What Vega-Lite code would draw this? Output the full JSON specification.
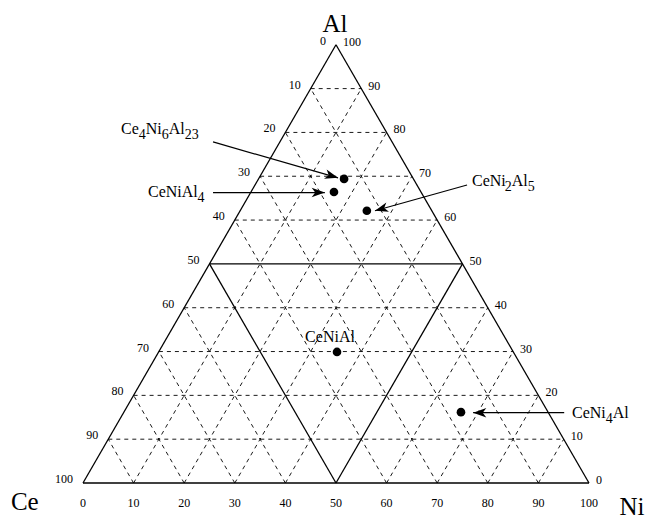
{
  "$schema": "https://vega.github.io/schema/vega-lite/v6.json",
  "width": 649,
  "height": 519,
  "autosize": {"type": "none"},
  "padding": 0,
  "background": "white",
  "config": {"view": {"stroke": null}},
  "datasets": {
    "grid": [
      {"x": 5, "y": 8.660, "x2": 95, "y2": 8.660},
      {"x": 10, "y": 17.321, "x2": 90, "y2": 17.321},
      {"x": 15, "y": 25.981, "x2": 85, "y2": 25.981},
      {"x": 20, "y": 34.641, "x2": 80, "y2": 34.641},
      {"x": 30, "y": 51.962, "x2": 70, "y2": 51.962},
      {"x": 35, "y": 60.622, "x2": 65, "y2": 60.622},
      {"x": 40, "y": 69.282, "x2": 60, "y2": 69.282},
      {"x": 45, "y": 77.942, "x2": 55, "y2": 77.942},
      {"x": 10, "y": 0, "x2": 55, "y2": 77.942},
      {"x": 20, "y": 0, "x2": 60, "y2": 69.282},
      {"x": 30, "y": 0, "x2": 65, "y2": 60.622},
      {"x": 40, "y": 0, "x2": 70, "y2": 51.962},
      {"x": 60, "y": 0, "x2": 80, "y2": 34.641},
      {"x": 70, "y": 0, "x2": 85, "y2": 25.981},
      {"x": 80, "y": 0, "x2": 90, "y2": 17.321},
      {"x": 90, "y": 0, "x2": 95, "y2": 8.660},
      {"x": 90, "y": 0, "x2": 45, "y2": 77.942},
      {"x": 80, "y": 0, "x2": 40, "y2": 69.282},
      {"x": 70, "y": 0, "x2": 35, "y2": 60.622},
      {"x": 60, "y": 0, "x2": 30, "y2": 51.962},
      {"x": 40, "y": 0, "x2": 20, "y2": 34.641},
      {"x": 30, "y": 0, "x2": 15, "y2": 25.981},
      {"x": 20, "y": 0, "x2": 10, "y2": 17.321},
      {"x": 10, "y": 0, "x2": 5, "y2": 8.660}
    ],
    "frame": [
      {"x": 0, "y": 0, "x2": 100, "y2": 0},
      {"x": 0, "y": 0, "x2": 50, "y2": 86.603},
      {"x": 100, "y": 0, "x2": 50, "y2": 86.603},
      {"x": 25, "y": 43.301, "x2": 75, "y2": 43.301},
      {"x": 50, "y": 0, "x2": 25, "y2": 43.301},
      {"x": 50, "y": 0, "x2": 75, "y2": 43.301}
    ],
    "arrows": [
      {"name": "Ce4Ni6Al23", "x": 25.7, "y": 67.4, "x2": 50.4, "y2": 60.3},
      {"name": "CeNiAl4", "x": 25.7, "y": 57.4, "x2": 47.8, "y2": 57.4},
      {"name": "CeNi2Al5", "x": 75.9, "y": 58.9, "x2": 57.7, "y2": 53.8},
      {"name": "CeNi4Al", "x": 95.1, "y": 13.9, "x2": 77.1, "y2": 13.9}
    ],
    "compounds": [
      {"name": "Ce4Ni6Al23", "x": 51.6, "y": 60.1},
      {"name": "CeNiAl4", "x": 49.6, "y": 57.5},
      {"name": "CeNi2Al5", "x": 56.1, "y": 53.8},
      {"name": "CeNiAl", "x": 50.2, "y": 25.9},
      {"name": "CeNi4Al", "x": 74.7, "y": 14.0}
    ],
    "labels": [
      {"compound": "Ce4Ni6Al23", "part": "main", "text": "Ce", "x": 7.51, "y": 69.0},
      {"compound": "Ce4Ni6Al23", "part": "sub", "text": "4", "x": 11.03, "y": 69.0},
      {"compound": "Ce4Ni6Al23", "part": "main", "text": "Ni", "x": 12.41, "y": 69.0},
      {"compound": "Ce4Ni6Al23", "part": "sub", "text": "6", "x": 15.57, "y": 69.0},
      {"compound": "Ce4Ni6Al23", "part": "main", "text": "Al", "x": 16.96, "y": 69.0},
      {"compound": "Ce4Ni6Al23", "part": "sub", "text": "23", "x": 20.12, "y": 69.0},
      {"compound": "CeNiAl4", "part": "main", "text": "CeNiAl", "x": 12.85, "y": 56.5},
      {"compound": "CeNiAl4", "part": "sub", "text": "4", "x": 22.65, "y": 56.5},
      {"compound": "CeNi2Al5", "part": "main", "text": "CeNi", "x": 76.88, "y": 58.7},
      {"compound": "CeNi2Al5", "part": "sub", "text": "2", "x": 83.36, "y": 58.7},
      {"compound": "CeNi2Al5", "part": "main", "text": "Al", "x": 84.74, "y": 58.7},
      {"compound": "CeNi2Al5", "part": "sub", "text": "5", "x": 87.90, "y": 58.7},
      {"compound": "CeNiAl", "part": "main", "text": "CeNiAl", "x": 43.9, "y": 27.9},
      {"compound": "CeNi4Al", "part": "main", "text": "CeNi", "x": 96.64, "y": 12.8},
      {"compound": "CeNi4Al", "part": "sub", "text": "4", "x": 103.32, "y": 12.8},
      {"compound": "CeNi4Al", "part": "main", "text": "Al", "x": 104.70, "y": 12.8}
    ],
    "ticks": [
      {"side": "bottom", "label": "0", "x": 0, "y": 0},
      {"side": "bottom", "label": "10", "x": 10, "y": 0},
      {"side": "bottom", "label": "20", "x": 20, "y": 0},
      {"side": "bottom", "label": "30", "x": 30, "y": 0},
      {"side": "bottom", "label": "40", "x": 40, "y": 0},
      {"side": "bottom", "label": "50", "x": 50, "y": 0},
      {"side": "bottom", "label": "60", "x": 60, "y": 0},
      {"side": "bottom", "label": "70", "x": 70, "y": 0},
      {"side": "bottom", "label": "80", "x": 80, "y": 0},
      {"side": "bottom", "label": "90", "x": 90, "y": 0},
      {"side": "bottom", "label": "100", "x": 100, "y": 0},
      {"side": "left", "label": "0", "x": 50, "y": 86.603},
      {"side": "left", "label": "10", "x": 45, "y": 77.942},
      {"side": "left", "label": "20", "x": 40, "y": 69.282},
      {"side": "left", "label": "30", "x": 35, "y": 60.622},
      {"side": "left", "label": "40", "x": 30, "y": 51.962},
      {"side": "left", "label": "50", "x": 25, "y": 43.301},
      {"side": "left", "label": "60", "x": 20, "y": 34.641},
      {"side": "left", "label": "70", "x": 15, "y": 25.981},
      {"side": "left", "label": "80", "x": 10, "y": 17.321},
      {"side": "left", "label": "90", "x": 5, "y": 8.660},
      {"side": "left", "label": "100", "x": 0, "y": 0},
      {"side": "right", "label": "0", "x": 100, "y": 0},
      {"side": "right", "label": "10", "x": 95, "y": 8.660},
      {"side": "right", "label": "20", "x": 90, "y": 17.321},
      {"side": "right", "label": "30", "x": 85, "y": 25.981},
      {"side": "right", "label": "40", "x": 80, "y": 34.641},
      {"side": "right", "label": "50", "x": 75, "y": 43.301},
      {"side": "right", "label": "60", "x": 70, "y": 51.962},
      {"side": "right", "label": "70", "x": 65, "y": 60.622},
      {"side": "right", "label": "80", "x": 60, "y": 69.282},
      {"side": "right", "label": "90", "x": 55, "y": 77.942},
      {"side": "right", "label": "100", "x": 50, "y": 86.603}
    ],
    "vertices": [
      {"label": "Al", "x": 49.8, "y": 89.2},
      {"label": "Ce", "x": -11.5, "y": -5.34},
      {"label": "Ni", "x": 108.5, "y": -6.32}
    ]
  },
  "encoding": {
    "x": {"field": "x", "type": "quantitative", "scale": {"domain": [-16.40, 111.86], "nice": false, "zero": false}, "axis": null},
    "y": {"field": "y", "type": "quantitative", "scale": {"domain": [-7.11, 95.45], "nice": false, "zero": false}, "axis": null}
  },
  "layer": [
    {
      "data": {"name": "grid"},
      "mark": {"type": "rule", "strokeDash": [4, 4], "strokeWidth": 0.9, "color": "black"},
      "encoding": {"x2": {"field": "x2"}, "y2": {"field": "y2"}}
    },
    {
      "data": {"name": "frame"},
      "mark": {"type": "rule", "strokeWidth": 1.3, "color": "black"},
      "encoding": {"x2": {"field": "x2"}, "y2": {"field": "y2"}}
    },
    {
      "data": {"name": "arrows"},
      "mark": {"type": "rule", "strokeWidth": 1.2, "color": "black"},
      "encoding": {"x2": {"field": "x2"}, "y2": {"field": "y2"}}
    },
    {
      "data": {"name": "arrows"},
      "transform": [{"filter": "datum.name == 'Ce4Ni6Al23'"}],
      "mark": {"type": "point", "shape": "M0,0 L-2.2,-0.8 L-1.6,0 L-2.2,0.8 Z", "filled": true, "size": 144, "angle": 16, "color": "black", "opacity": 1},
      "encoding": {"x": {"field": "x2", "type": "quantitative"}, "y": {"field": "y2", "type": "quantitative"}}
    },
    {
      "data": {"name": "arrows"},
      "transform": [{"filter": "datum.name == 'CeNiAl4'"}],
      "mark": {"type": "point", "shape": "M0,0 L-2.2,-0.8 L-1.6,0 L-2.2,0.8 Z", "filled": true, "size": 144, "angle": 0, "color": "black", "opacity": 1},
      "encoding": {"x": {"field": "x2", "type": "quantitative"}, "y": {"field": "y2", "type": "quantitative"}}
    },
    {
      "data": {"name": "arrows"},
      "transform": [{"filter": "datum.name == 'CeNi2Al5'"}],
      "mark": {"type": "point", "shape": "M0,0 L-2.2,-0.8 L-1.6,0 L-2.2,0.8 Z", "filled": true, "size": 144, "angle": 164, "color": "black", "opacity": 1},
      "encoding": {"x": {"field": "x2", "type": "quantitative"}, "y": {"field": "y2", "type": "quantitative"}}
    },
    {
      "data": {"name": "arrows"},
      "transform": [{"filter": "datum.name == 'CeNi4Al'"}],
      "mark": {"type": "point", "shape": "M0,0 L-2.2,-0.8 L-1.6,0 L-2.2,0.8 Z", "filled": true, "size": 144, "angle": 180, "color": "black", "opacity": 1},
      "encoding": {"x": {"field": "x2", "type": "quantitative"}, "y": {"field": "y2", "type": "quantitative"}}
    },
    {
      "data": {"name": "compounds"},
      "mark": {"type": "point", "shape": "circle", "filled": true, "size": 75, "color": "black", "opacity": 1}
    },
    {
      "data": {"name": "labels"},
      "transform": [{"filter": "datum.part == 'main'"}],
      "mark": {"type": "text", "align": "left", "baseline": "alphabetic", "font": "Liberation Serif", "fontSize": 16, "color": "black"},
      "encoding": {"text": {"field": "text"}}
    },
    {
      "data": {"name": "labels"},
      "transform": [{"filter": "datum.part == 'sub'"}],
      "mark": {"type": "text", "align": "left", "baseline": "alphabetic", "dy": 5, "font": "Liberation Serif", "fontSize": 14, "color": "black"},
      "encoding": {"text": {"field": "text"}}
    },
    {
      "data": {"name": "ticks"},
      "transform": [{"filter": "datum.side == 'bottom'"}],
      "mark": {"type": "text", "align": "center", "baseline": "alphabetic", "dy": 24, "font": "Liberation Serif", "fontSize": 12, "color": "black"},
      "encoding": {"text": {"field": "label"}}
    },
    {
      "data": {"name": "ticks"},
      "transform": [{"filter": "datum.side == 'left'"}],
      "mark": {"type": "text", "align": "right", "baseline": "alphabetic", "dx": -10, "dy": 0, "font": "Liberation Serif", "fontSize": 12, "color": "black"},
      "encoding": {"text": {"field": "label"}}
    },
    {
      "data": {"name": "ticks"},
      "transform": [{"filter": "datum.side == 'right'"}],
      "mark": {"type": "text", "align": "left", "baseline": "alphabetic", "dx": 7, "dy": 1, "font": "Liberation Serif", "fontSize": 12, "color": "black"},
      "encoding": {"text": {"field": "label"}}
    },
    {
      "data": {"name": "vertices"},
      "mark": {"type": "text", "align": "center", "baseline": "alphabetic", "font": "Liberation Serif", "fontSize": 25, "color": "black"},
      "encoding": {"text": {"field": "label"}}
    }
  ]
}
